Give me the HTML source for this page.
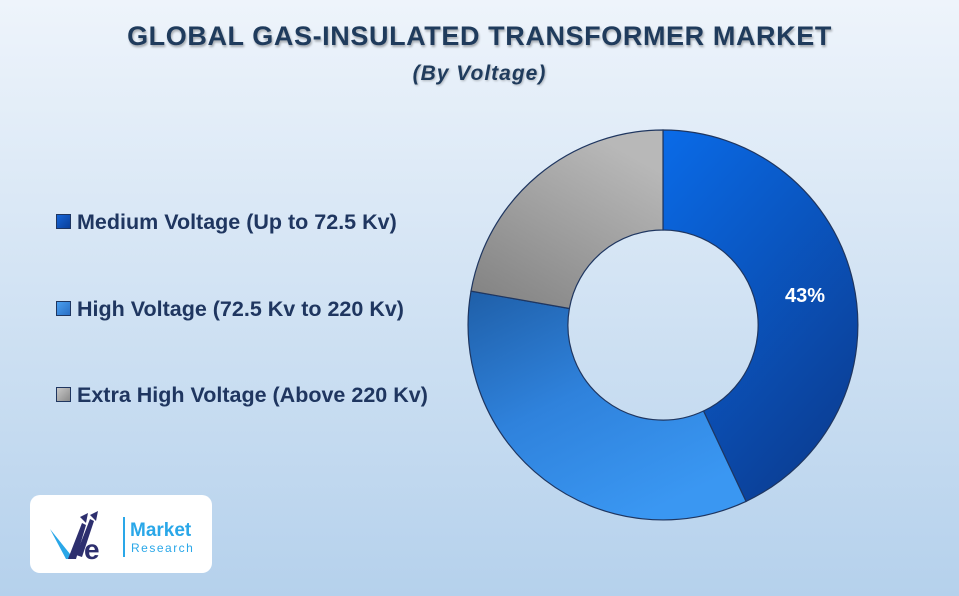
<!DOCTYPE html>
<html><head><style>
body{margin:0;width:959px;height:596px;overflow:hidden;font-family:"Liberation Sans",sans-serif;}
.bg{position:absolute;left:0;top:0;width:959px;height:596px;background:linear-gradient(180deg,#eef4fb 0%,#d7e6f5 40%,#b5d1ec 100%);}
.t1{position:absolute;top:21px;left:0;width:959px;text-align:center;font-weight:bold;font-size:27px;color:#1f3b5c;letter-spacing:0.6px;text-shadow:1px 2px 2px rgba(0,0,0,0.3);}
.t2{position:absolute;top:62px;left:0;width:959px;text-align:center;font-weight:bold;font-style:italic;font-size:21px;color:#1f3b5c;letter-spacing:1px;text-shadow:1px 1px 2px rgba(0,0,0,0.25);}
.lg{position:absolute;left:56px;font-weight:bold;font-size:21.5px;color:#1f3660;}
.lg span{display:inline-block;width:13px;height:13px;border:1.5px solid #1f3660;margin-right:6px;vertical-align:0px;}
.logo{position:absolute;left:30px;top:495px;width:182px;height:78px;background:#fff;border-radius:10px;}
</style></head><body>
<div class="bg"></div>
<div class="t1">GLOBAL GAS-INSULATED TRANSFORMER MARKET</div>
<div class="t2">(By Voltage)</div>
<div class="lg" style="top:210px"><span style="background:linear-gradient(135deg,#1565d8,#0a3f9a)"></span>Medium Voltage (Up to 72.5 Kv)</div>
<div class="lg" style="top:297px"><span style="background:linear-gradient(135deg,#4a9ff0,#2a6fc4)"></span>High Voltage (72.5 Kv to 220 Kv)</div>
<div class="lg" style="top:383px"><span style="background:linear-gradient(135deg,#c8c8c8,#8a8a8a)"></span>Extra High Voltage (Above 220 Kv)</div>
<svg style="position:absolute;left:0;top:0" width="959" height="596">
<defs>
<linearGradient id="g1" x1="0" y1="0" x2="0.6" y2="1"><stop offset="0" stop-color="#0a6be8"/><stop offset="1" stop-color="#0b3f96"/></linearGradient>
<linearGradient id="g2" x1="0" y1="0" x2="0.6" y2="1"><stop offset="0" stop-color="#1f5fa8"/><stop offset="0.5" stop-color="#2f82dc"/><stop offset="1" stop-color="#3a97f2"/></linearGradient>
<linearGradient id="g3" x1="0" y1="1" x2="0.6" y2="0"><stop offset="0" stop-color="#808080"/><stop offset="1" stop-color="#b8b8b8"/></linearGradient>
</defs>
<g stroke="#1f3660" stroke-width="1.2">
<path d="M663,130 A195,195 0 0 1 746,501.4 L703.5,411 A95,95 0 0 0 663,230 Z" fill="url(#g1)"/>
<path d="M746,501.4 A195,195 0 0 1 471,291.1 L569.4,308.5 A95,95 0 0 0 703.5,411 Z" fill="url(#g2)"/>
<path d="M471,291.1 A195,195 0 0 1 663,130 L663,230 A95,95 0 0 0 569.4,308.5 Z" fill="url(#g3)"/>
</g>
<text x="805" y="302" font-family="Liberation Sans" font-weight="bold" font-size="20" fill="#fff" text-anchor="middle">43%</text>
</svg>
<div class="logo">
<svg width="182" height="78" style="position:absolute;left:0;top:0">
<path d="M20,34 L36,64 L44,64 Z" fill="#2aa7e8"/>
<path d="M38,64 L52,28 L56,30 L46,64 Z" fill="#2d2f6e"/>
<path d="M46,60 L60,24 L64,26 L52,62 Z" fill="#2d2f6e"/>
<polygon points="50,22 58,18 56,28" fill="#2d2f6e"/>
<polygon points="60,20 68,16 66,26" fill="#2d2f6e"/>
<text x="54" y="64" font-family="Liberation Sans" font-weight="bold" font-size="28" fill="#2d2f6e">e</text>
<rect x="93" y="22" width="2" height="40" fill="#2aa7e8"/>
<text x="100" y="41" font-family="Liberation Sans" font-weight="bold" font-size="19" fill="#2aa7e8">Market</text>
<text x="101" y="57" font-family="Liberation Sans" font-size="12" letter-spacing="1.5" fill="#2aa7e8">Research</text>
</svg>
</div>
</body></html>
